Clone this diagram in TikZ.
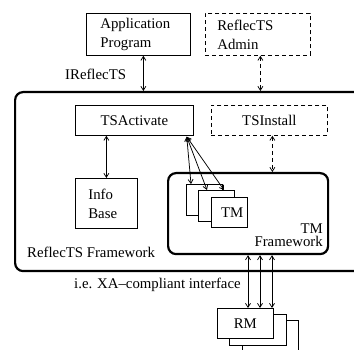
\documentclass[tikz,border=0pt]{standalone}
\usepackage{fontspec}
\setmainfont{Liberation Serif}
\usetikzlibrary{arrows.meta}
\begin{document}
\begin{tikzpicture}[x=1pt,y=-1pt,
  every node/.style={font=\fontsize{14.8}{19}\selectfont},
  box/.style={draw, line width=0.75pt, anchor=north west, inner ysep=0pt, fill=white},
  dbox/.style={box, dash pattern=on 4pt off 3pt},
  fw/.style={draw, line width=2.2pt, rounded corners=8pt, anchor=north west, inner sep=0pt},
  lbl/.style={anchor=base west, inner sep=0pt},
  conn/.style={line width=0.75pt, {Straight Barb[length=4pt,width=5pt]}-{Straight Barb[length=4pt,width=5pt]}},
  dconn/.style={conn, dash pattern=on 4pt off 3pt}
]
\useasboundingbox (0,0) rectangle (354,350);
\clip (0,0) rectangle (354,350);

% outer framework
\node[fw, minimum width=380pt, minimum height=179pt] (frame) at (14,91) {};
\node[lbl] (frlbl) at (27,258) {ReflecTS Framework};

% top boxes
\node[box, minimum height=42pt, text width=76pt, inner xsep=14pt, align=left] (app) at (86,13) {Application\\Program};
\node[dbox, minimum height=42pt, text width=81pt, inner xsep=12pt, align=left] (admin) at (205,13) {ReflecTS\\Admin};
\node[lbl] (ireflec) at (65,80) {IReflecTS};

% inner boxes
\node[box, minimum width=118pt, minimum height=30pt, inner xsep=0pt] (tsa) at (75,105) {TSActivate};
\node[dbox, minimum width=116pt, minimum height=30pt, inner xsep=0pt] (tsi) at (211,105) {TSInstall};
\node[box, minimum height=50pt, text width=36pt, inner xsep=13pt, align=left] (info) at (75,178) {Info\\Base};

% TM framework
\node[fw, minimum width=160pt, minimum height=81pt] (tmfw) at (167,172) {};
\node[anchor=north east, inner sep=0pt, align=right, font=\fontsize{14.8}{13.5}\selectfont] (tmlbl) at (323,223.5) {TM\\Framework};

% TM stack
\node[box, minimum width=36pt, minimum height=31pt] (tmA) at (186,184) {};
\node[box, minimum width=36pt, minimum height=31pt] (tmB) at (198,190) {};
\node[box, minimum height=30pt, text width=28pt, inner xsep=4pt, align=right] (tmC) at (211,197) {TM};

% RM stack
\node[box, minimum width=56pt, minimum height=45pt] (rmC) at (242,320) {};
\node[box, minimum width=57pt, minimum height=31pt] (rmB) at (229,314) {};
\node[box, minimum width=56pt, minimum height=30pt, inner xsep=0pt] (rmA) at (217,308) {RM};

\node[lbl] (xa) at (74,289) {i.e. XA--compliant interface};

% connectors
\draw[conn] ([xshift=5pt]app.south) -- ([xshift=5pt]app.south |- frame.north);
\draw[dconn] ([xshift=2.5pt]admin.south) -- ([xshift=2.5pt]admin.south |- frame.north);
\draw[conn] (info.north |- tsa.south) -- (info.north);
\draw[dconn] ([xshift=3pt]tsi.south) -- ([xshift=3pt]tsi.south |- tmfw.north);
\coordinate (tsaout) at ([xshift=-7pt,yshift=-1pt]tsa.south east);
\draw[conn] (tsaout) -- ([xshift=5pt]tmA.north west);
\draw[conn] (tsaout) -- ([xshift=9pt]tmB.north west);
\draw[conn] (tsaout) -- ([xshift=26pt]tmB.north west);
\draw[conn] ([xshift=31pt]rmA.north west |- tmfw.south) -- ([xshift=31pt]rmA.north west);
\draw[conn] ([xshift=43pt]rmA.north west |- tmfw.south) -- ([xshift=43pt]rmA.north west);
\draw[conn] ([xshift=55pt]rmA.north west |- tmfw.south) -- ([xshift=55pt]rmA.north west);
\end{tikzpicture}
\end{document}
